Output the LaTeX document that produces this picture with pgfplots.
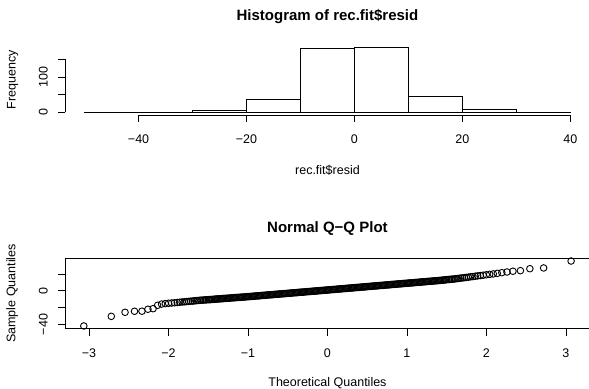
\documentclass[border=0pt]{standalone}
\usepackage{fontspec}
\setmainfont{Liberation Sans}
\usepackage{pgfplots}
\pgfplotsset{compat=1.18}

\newcommand\axisfont{\fontsize{12.5bp}{15bp}\selectfont}
\newcommand\mainfont{\fontsize{15bp}{18bp}\selectfont\bfseries}

\begin{document}
\begin{tikzpicture}[line width=0.9bp]
\useasboundingbox (0,0) rectangle (589bp,389bp);

% ---------------- histogram of the residuals ----------------
\begin{axis}[
  at={(65.2bp,274bp)}, anchor=south west,
  scale only axis, width=524.5bp, height=70.4bp,
  xmin=-53.6, xmax=43.6, ymin=-7.32, ymax=190.32,
  hide axis, clip=false,
]
\addplot[ybar interval, fill=white, draw=black, line width=0.9bp]
  coordinates {(-50,1) (-40,1) (-30,5) (-20,35) (-10,180) (0,183) (10,45) (20,9) (30,1) (40,1)};

% x axis
\draw (axis cs:-40,-7.32) -- (axis cs:40,-7.32);
\pgfplotsinvokeforeach{-40,-20,0,20,40}{
  \draw (axis cs:#1,-7.32) -- ([yshift=-7.2bp]axis cs:#1,-7.32);
}
\node[anchor=base, font=\axisfont] at ([yshift=-28.5bp]axis cs:-40,-7.32) {−40};
\node[anchor=base, font=\axisfont] at ([yshift=-28.5bp]axis cs:-20,-7.32) {−20};
\node[anchor=base, font=\axisfont] at ([yshift=-28.5bp]axis cs:0,-7.32) {0};
\node[anchor=base, font=\axisfont] at ([yshift=-28.5bp]axis cs:20,-7.32) {20};
\node[anchor=base, font=\axisfont] at ([yshift=-28.5bp]axis cs:40,-7.32) {40};

% y axis
\draw (axis cs:-53.6,0) -- (axis cs:-53.6,150);
\pgfplotsinvokeforeach{0,50,100,150}{
  \draw (axis cs:-53.6,#1) -- ([xshift=-7.2bp]axis cs:-53.6,#1);
}
\node[rotate=90, anchor=base, font=\axisfont] at ([xshift=-17.7bp]axis cs:-53.6,0) {0};
\node[rotate=90, anchor=base, font=\axisfont] at ([xshift=-17.7bp]axis cs:-53.6,100) {100};

% titles
\node[anchor=base, font=\mainfont] at ([yshift=24.5bp]axis cs:-5,190.32) {Histogram of rec.fit\$resid};
\node[anchor=base, font=\axisfont] at ([yshift=-60bp]axis cs:-5,-7.32) {rec.fit\$resid};
\node[rotate=90, anchor=base, font=\axisfont] at ([xshift=-49.7bp]axis cs:-53.6,91.5) {Frequency};
\end{axis}

% ---------------- normal Q-Q plot ----------------
\begin{axis}[
  at={(65.2bp,60.4bp)}, anchor=south west,
  scale only axis, width=524.5bp, height=70.2bp,
  xmin=-3.30, xmax=3.30, ymin=-44.9, ymax=38.2,
  hide axis, clip=false,
]
\addplot[only marks, mark=o, mark size=3.3bp, mark options={line width=0.9bp, draw=black}]
  coordinates {
  (-3.066,-41.8) (-2.720,-30.4) (-2.547,-25.6) (-2.428,-24.4) (-2.334,-24.3)
  (-2.259,-22.0) (-2.194,-21.3) (-2.137,-17.3) (-2.087,-15.9)
  (-2.041,-15.3) (-1.999,-14.9) (-1.960,-14.6) (-1.924,-14.3) (-1.890,-14.0)
  (-1.859,-13.7) (-1.829,-13.4) (-1.801,-13.2) (-1.774,-12.9) (-1.748,-12.7)
  (-1.724,-12.5) (-1.700,-12.3) (-1.678,-12.1) (-1.656,-11.9) (-1.635,-11.7)
  (-1.614,-11.5) (-1.594,-11.3) (-1.575,-11.2) (-1.556,-11.1) (-1.538,-10.9)
  (-1.521,-10.8)
  (-1.500,-10.7) (-1.485,-10.6) (-1.470,-10.5) (-1.455,-10.4) (-1.440,-10.3)
  (-1.425,-10.2) (-1.410,-10.0) (-1.395,-9.9) (-1.380,-9.8) (-1.365,-9.7)
  (-1.350,-9.6) (-1.335,-9.5) (-1.320,-9.4) (-1.305,-9.3) (-1.290,-9.2)
  (-1.275,-9.1) (-1.260,-9.0) (-1.245,-8.9) (-1.230,-8.8) (-1.215,-8.6)
  (-1.200,-8.5) (-1.185,-8.4) (-1.170,-8.3) (-1.155,-8.2) (-1.140,-8.1)
  (-1.125,-8.0) (-1.110,-7.9) (-1.095,-7.8) (-1.080,-7.7) (-1.065,-7.6)
  (-1.050,-7.5) (-1.035,-7.4) (-1.020,-7.2) (-1.005,-7.1)
  (-0.990,-7.0) (-0.975,-6.9) (-0.960,-6.8) (-0.945,-6.7) (-0.930,-6.6)
  (-0.915,-6.4) (-0.900,-6.3) (-0.885,-6.2) (-0.870,-6.1) (-0.855,-6.0)
  (-0.840,-5.8) (-0.825,-5.7) (-0.810,-5.6) (-0.795,-5.5) (-0.780,-5.4)
  (-0.765,-5.2) (-0.750,-5.1) (-0.735,-5.0) (-0.720,-4.9) (-0.705,-4.8)
  (-0.690,-4.7) (-0.675,-4.5) (-0.660,-4.4) (-0.645,-4.3) (-0.630,-4.2)
  (-0.615,-4.1) (-0.600,-3.9) (-0.585,-3.8) (-0.570,-3.7) (-0.555,-3.6)
  (-0.540,-3.5) (-0.525,-3.4) (-0.510,-3.2) (-0.495,-3.1) (-0.480,-3.0)
  (-0.465,-2.9) (-0.450,-2.8) (-0.435,-2.6) (-0.420,-2.5) (-0.405,-2.4)
  (-0.390,-2.3) (-0.375,-2.2) (-0.360,-2.0) (-0.345,-1.9) (-0.330,-1.8)
  (-0.315,-1.7) (-0.300,-1.6) (-0.285,-1.5) (-0.270,-1.3) (-0.255,-1.2)
  (-0.240,-1.1) (-0.225,-1.0) (-0.210,-0.9) (-0.195,-0.7) (-0.180,-0.6)
  (-0.165,-0.5) (-0.150,-0.4) (-0.135,-0.3) (-0.120,-0.2) (-0.105,0.0)
  (-0.090,0.1) (-0.075,0.2) (-0.060,0.3) (-0.045,0.4) (-0.030,0.6)
  (-0.015,0.7) (0.000,0.8)
  (0.015,0.9) (0.030,1.0) (0.045,1.2) (0.060,1.3) (0.075,1.4)
  (0.090,1.5) (0.105,1.6) (0.120,1.8) (0.135,1.9) (0.150,2.0)
  (0.165,2.1) (0.180,2.2) (0.195,2.4) (0.210,2.5) (0.225,2.6)
  (0.240,2.7) (0.255,2.8) (0.270,3.0) (0.285,3.1) (0.300,3.2)
  (0.315,3.3) (0.330,3.4) (0.345,3.6) (0.360,3.7) (0.375,3.8)
  (0.390,3.9) (0.405,4.0) (0.420,4.2) (0.435,4.3) (0.450,4.4)
  (0.465,4.5) (0.480,4.6) (0.495,4.8) (0.510,4.9) (0.525,5.0)
  (0.540,5.1) (0.555,5.2) (0.570,5.4) (0.585,5.5) (0.600,5.6)
  (0.615,5.7) (0.630,5.8) (0.645,6.0) (0.660,6.1) (0.675,6.2)
  (0.690,6.3) (0.705,6.4) (0.720,6.6) (0.735,6.7) (0.750,6.8)
  (0.765,6.9) (0.780,7.0) (0.795,7.2) (0.810,7.3) (0.825,7.4)
  (0.840,7.5) (0.855,7.6) (0.870,7.8) (0.885,7.9) (0.900,8.0)
  (0.915,8.1) (0.930,8.2) (0.945,8.4) (0.960,8.5) (0.975,8.6)
  (0.990,8.7)
  (1.005,8.8) (1.020,9.0) (1.035,9.1) (1.050,9.2) (1.065,9.3)
  (1.080,9.4) (1.095,9.6) (1.110,9.7) (1.125,9.8) (1.140,9.9)
  (1.155,10.0) (1.170,10.2) (1.185,10.3) (1.200,10.4) (1.215,10.5)
  (1.230,10.6) (1.245,10.8) (1.260,10.9) (1.275,11.0) (1.290,11.1)
  (1.305,11.2) (1.320,11.4) (1.335,11.5) (1.350,11.6) (1.365,11.7)
  (1.380,11.8) (1.395,12.0) (1.410,12.1) (1.425,12.2) (1.440,12.4)
  (1.455,12.5) (1.470,12.7) (1.485,12.8) (1.500,13.0)
  (1.521,13.2) (1.538,13.3) (1.556,13.5) (1.575,13.7) (1.594,13.8)
  (1.614,14.1) (1.635,14.3) (1.656,14.6) (1.678,14.9) (1.700,15.1)
  (1.724,15.4) (1.748,15.7) (1.774,16.0) (1.801,16.4) (1.829,16.7)
  (1.859,17.1) (1.890,17.5) (1.924,17.9) (1.960,18.3) (1.999,18.8)
  (2.041,19.3) (2.087,19.8) (2.137,20.5) (2.194,21.3) (2.259,22.1)
  (2.334,23.0) (2.428,23.7) (2.547,26.0) (2.720,26.9) (3.066,35.1)
  };

% frame
\draw (rel axis cs:0,0) rectangle (rel axis cs:1,1);

% x axis ticks and labels
\pgfplotsinvokeforeach{-3,-2,-1,0,1,2,3}{
  \draw (axis cs:#1,-44.9) -- ([yshift=-7.2bp]axis cs:#1,-44.9);
}
\node[anchor=base, font=\axisfont] at ([yshift=-28.5bp]axis cs:-3,-44.9) {−3};
\node[anchor=base, font=\axisfont] at ([yshift=-28.5bp]axis cs:-2,-44.9) {−2};
\node[anchor=base, font=\axisfont] at ([yshift=-28.5bp]axis cs:-1,-44.9) {−1};
\node[anchor=base, font=\axisfont] at ([yshift=-28.5bp]axis cs:0,-44.9) {0};
\node[anchor=base, font=\axisfont] at ([yshift=-28.5bp]axis cs:1,-44.9) {1};
\node[anchor=base, font=\axisfont] at ([yshift=-28.5bp]axis cs:2,-44.9) {2};
\node[anchor=base, font=\axisfont] at ([yshift=-28.5bp]axis cs:3,-44.9) {3};

% y axis ticks and labels
\pgfplotsinvokeforeach{-40,-20,0,20}{
  \draw (axis cs:-3.30,#1) -- ([xshift=-7.2bp]axis cs:-3.30,#1);
}
\node[rotate=90, anchor=base, font=\axisfont] at ([xshift=-17.7bp]axis cs:-3.30,-40) {−40};
\node[rotate=90, anchor=base, font=\axisfont] at ([xshift=-17.7bp]axis cs:-3.30,0) {0};

% titles
\node[anchor=base, font=\mainfont] at ([yshift=25.5bp]axis cs:0,38.2) {Normal Q−Q Plot};
\node[anchor=base, font=\axisfont] at ([yshift=-57.5bp]axis cs:0,-44.9) {Theoretical Quantiles};
\node[rotate=90, anchor=base, font=\axisfont] at ([xshift=-49.7bp]axis cs:-3.30,-3.35) {Sample Quantiles};
\end{axis}
\end{tikzpicture}
\end{document}
